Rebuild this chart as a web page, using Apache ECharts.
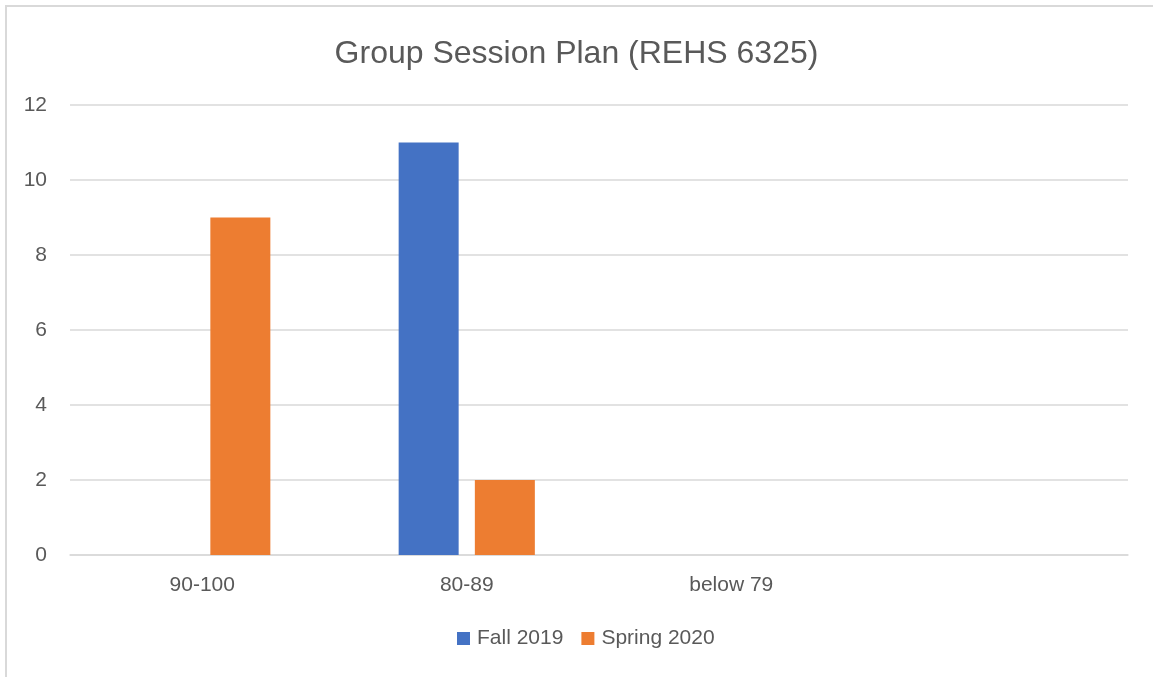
<!DOCTYPE html>
<html>
<head>
<meta charset="utf-8">
<script src="https://cdn.jsdelivr.net/npm/echarts@6/dist/echarts.min.js"></script>
<style>
html,body{margin:0;padding:0;background:#fff;}
#chart{width:1153px;height:677px;}
</style>
</head>
<body>
<div id="chart"></div>
<script>
const categories = ['90-100', '80-89', 'below 79', ''];
const fall2019 = [0, 11, 0, null];
const spring2020 = [9, 2, 0, null];
const seriesNames = ['Fall 2019', 'Spring 2020'];

const textColor = '#595959';
const font = "'Liberation Sans', Arial, sans-serif";
const chart = echarts.init(document.getElementById('chart'));
chart.setOption({
  animation: false,
  backgroundColor: '#ffffff',
  graphic: [{
    type: 'rect',
    shape: { x: 6, y: 6, width: 1200, height: 700 },
    style: { fill: 'none', stroke: '#d9d9d9', lineWidth: 2 },
    silent: true
  }],
  title: {
    text: 'Group Session Plan (REHS 6325)',
    left: 'center',
    top: 33,
    textStyle: { color: textColor, fontSize: 32, fontWeight: 'normal', fontFamily: font }
  },
  legend: {
    left: 452,
    top: 623,
    itemWidth: 13,
    itemHeight: 13,
    itemGap: 18,
    icon: 'rect',
    data: seriesNames,
    textStyle: { color: textColor, fontSize: 21, fontFamily: font, padding: [0, 0, 0, 2] }
  },
  grid: { left: 70, right: 25, top: 105, bottom: 122, containLabel: false },
  xAxis: {
    type: 'category',
    data: categories,
    axisLine: { show: true, lineStyle: { color: '#d9d9d9', width: 1.5 } },
    axisTick: { show: false },
    axisLabel: { color: textColor, fontSize: 21, fontFamily: font, margin: 20, interval: 0 }
  },
  yAxis: {
    type: 'value',
    min: 0, max: 12, interval: 2,
    axisLine: { show: false },
    axisTick: { show: false },
    splitLine: { lineStyle: { color: '#d9d9d9', width: 1.5 } },
    axisLabel: { color: textColor, fontSize: 21, fontFamily: font, margin: 23 }
  },
  series: [
    { name: seriesNames[0], type: 'bar', data: fall2019, barWidth: 60, barGap: '27%', itemStyle: { color: '#4472C4' } },
    { name: seriesNames[1], type: 'bar', data: spring2020, barWidth: 60, barGap: '27%', itemStyle: { color: '#ED7D31' } }
  ]
});
</script>
</body>
</html>
